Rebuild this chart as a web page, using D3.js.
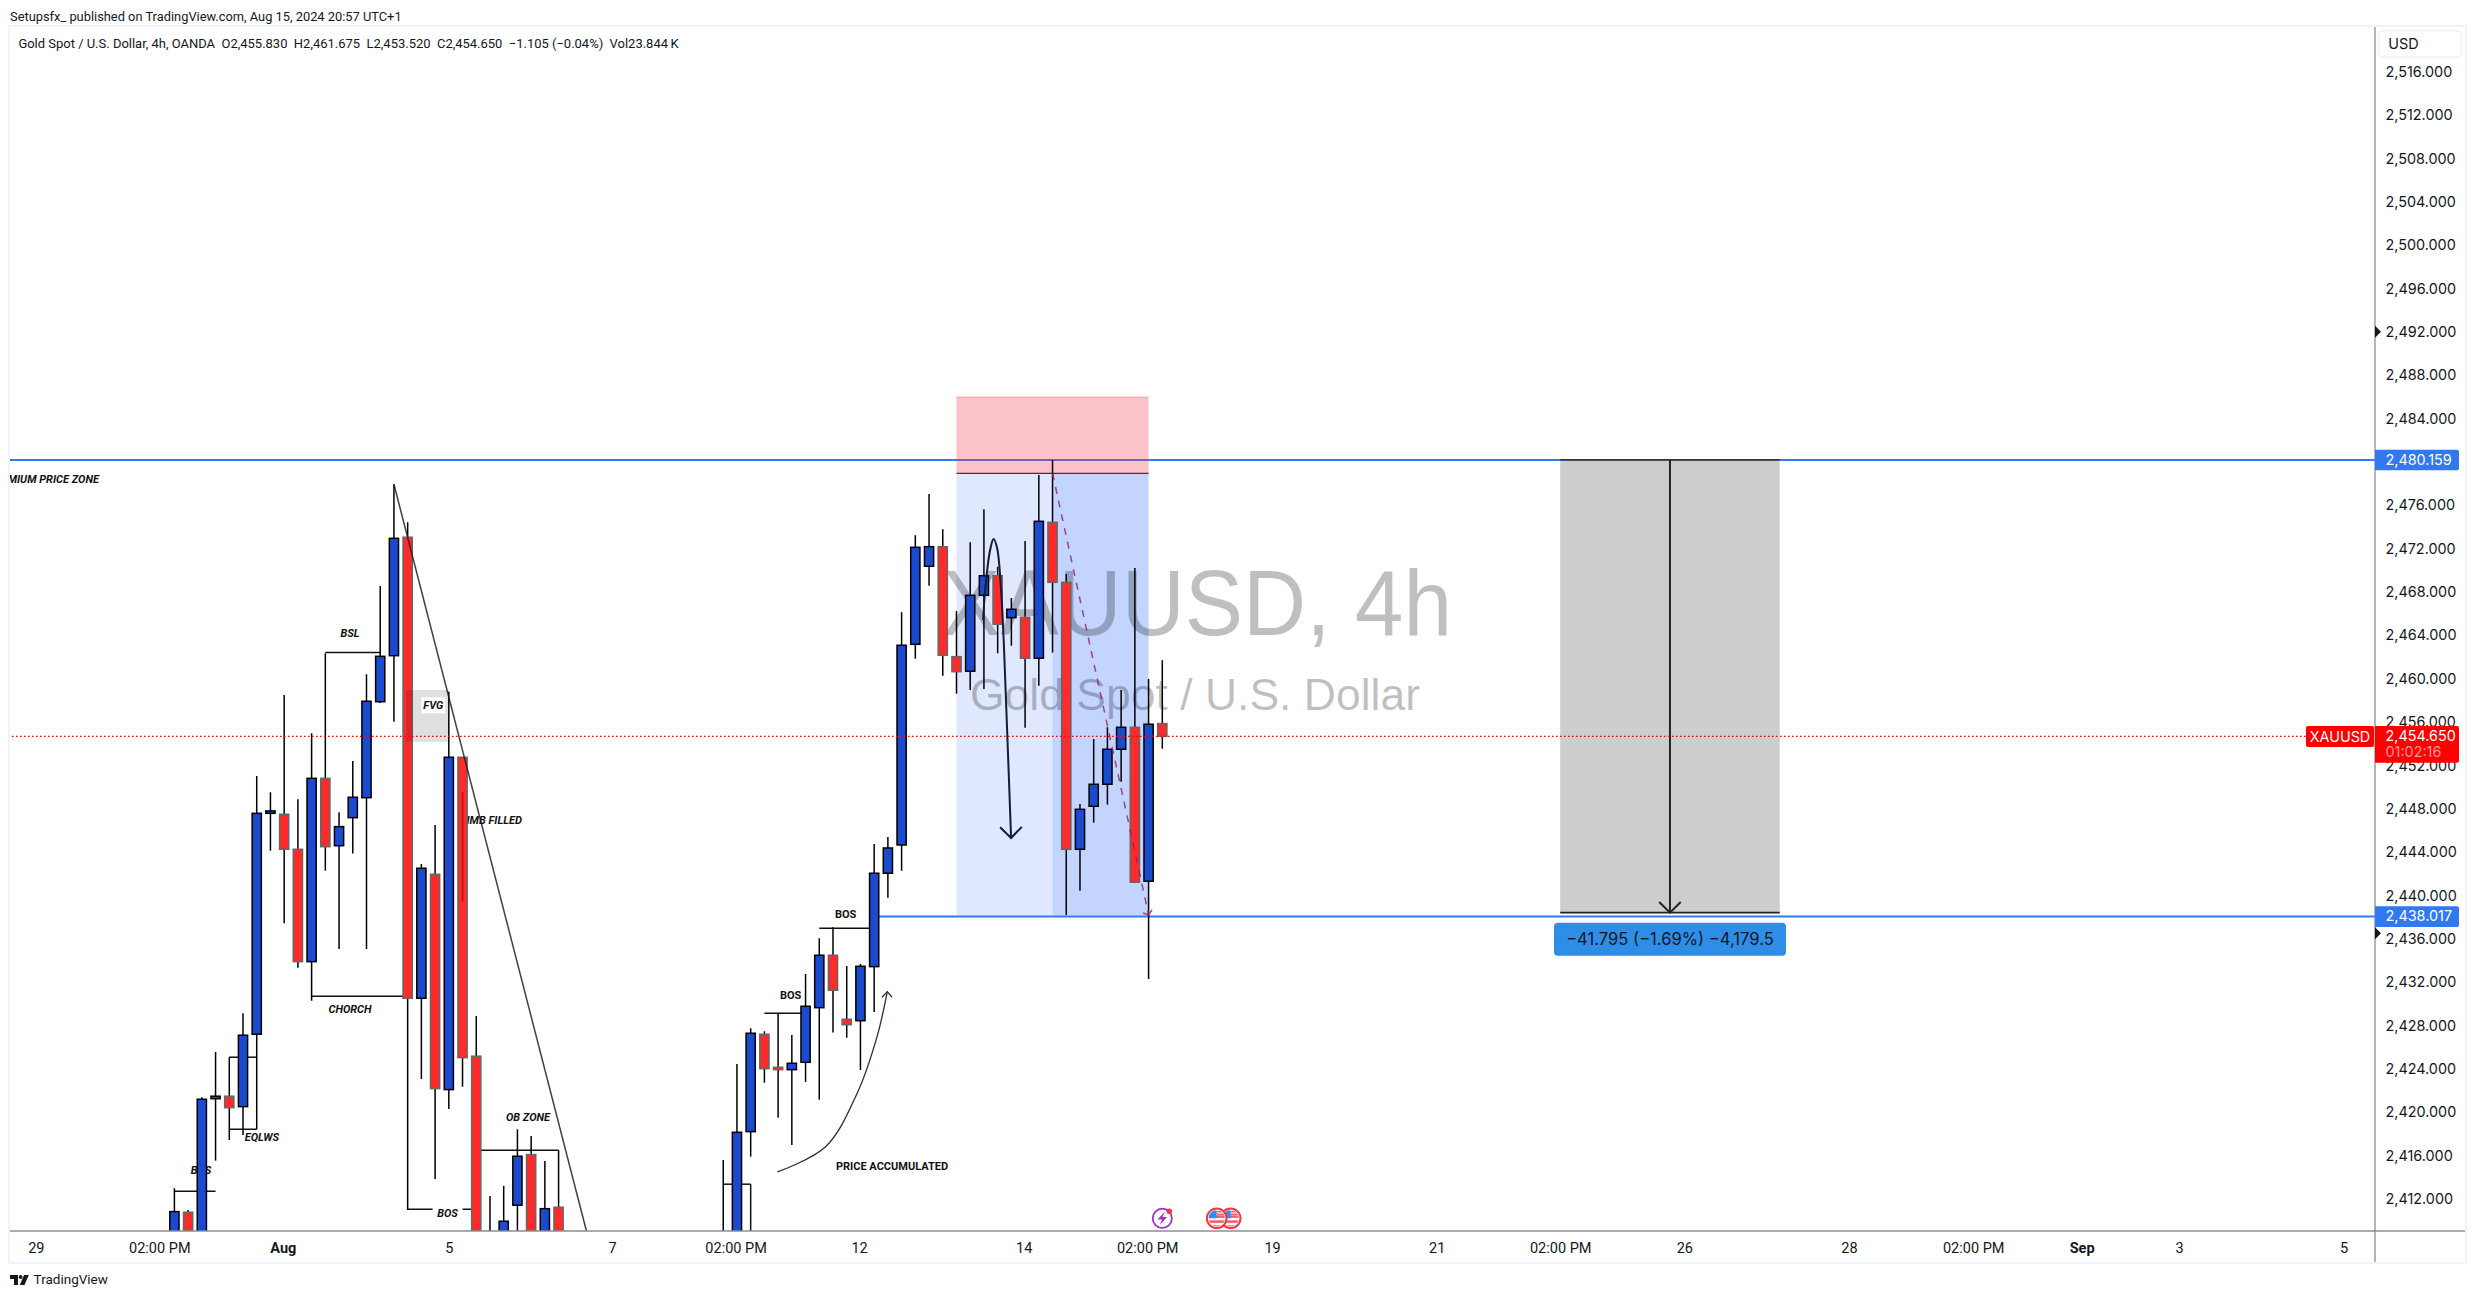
<!DOCTYPE html>
<html><head><meta charset="utf-8">
<script src="https://cdn.jsdelivr.net/npm/d3@7/dist/d3.min.js"></script>
<style>html,body{margin:0;padding:0;background:#fff;overflow:hidden}svg{display:block}</style>
</head><body><svg id="c" width="2475" height="1298"></svg>
<script>
// ---------- data ----------
const barIndex=[0,1,2,3,4,5,6,7,8,9,10,11,12,13,14,15,16,17,18,19,20,21,22,23,24,25,26,27,28,
 40,41,42,43,44,45,46,47,48,49,50,51,52,53,54,55,56,57,58,59,60,61,62,63,64,65,66,67,68,69,70,71,72];
const opens=[2405,2410.73,2406,2421.21,2421.44,2420.48,2427.16,2447.55,2447.46,2444.23,2433.86,2450.78,2444.56,2447.15,2448.99,2457.85,2462.10,2473.03,2430.48,2441.92,2422.05,2452.72,2425.13,2403,2404,2411.38,2416.05,2404,2411.19,
 2398,2404,2418.17,2427.16,2424.11,2423.89,2424.57,2429.61,2434.45,2428.54,2428.41,2433.40,2442.02,2444.63,2463.15,2470.35,2472.16,2462.01,2460.66,2467.67,2469.48,2465.61,2465.64,2461.86,2474.41,2468.87,2444.23,2448.20,2450.23,2453.46,2455.49,2441.28,2455.83];
const highs=[2412.95,2410.94,2421.34,2425.52,2425.04,2429.10,2451.00,2449.49,2458.47,2448.85,2454.94,2462.32,2447.65,2452.38,2460.38,2468.53,2477.92,2474.41,2442.87,2446.47,2458.78,2452.72,2428.85,2412.23,2413.16,2418.39,2417.77,2415.46,2416.45,
 2415.56,2424.42,2427.71,2427.44,2429.10,2427.09,2432.72,2436.02,2437.03,2433.46,2433.65,2444.72,2445.37,2466.10,2473.21,2477.02,2473.76,2466.22,2472.56,2475.61,2470.31,2467.42,2472.68,2478.78,2480.16,2469.64,2448.41,2454.41,2455.49,2458.93,2470.19,2459.95,2461.675];
const lows=[2402,2404,2405,2415.49,2417.40,2417.86,2418.39,2444.10,2437.40,2433.30,2430.26,2442.26,2435.03,2443.83,2435.03,2457.73,2456.01,2410.94,2423.03,2413.80,2420.26,2422.32,2402,2400,2402,2404,2403,2402,2401,
 2396,2402,2415.86,2422.69,2419.46,2416.94,2422.76,2421.12,2427.31,2426.84,2423.86,2429.22,2439.76,2442.26,2461.82,2468.56,2460.25,2458.59,2458.93,2459.03,2462.32,2463.02,2455.45,2459.33,2462.38,2438.17,2440.41,2446.69,2448.35,2450.47,2441.19,2432.26,2453.52];
const closes=[2410.79,2406,2421.16,2421.44,2420.38,2427.07,2447.55,2447.77,2444.23,2433.86,2450.78,2444.47,2446.32,2449.03,2457.89,2462.04,2472.93,2430.48,2442.48,2422.14,2452.72,2425.00,2404,2406,2409.90,2415.90,2405,2411.06,2403,
 2404,2418.11,2427.25,2423.98,2423.89,2424.48,2429.74,2434.45,2431.22,2428.04,2433.43,2442.02,2444.35,2463.06,2472.10,2472.16,2462.14,2460.62,2467.67,2469.48,2465.00,2466.38,2461.86,2474.50,2468.87,2444.23,2447.92,2450.23,2453.46,2455.49,2441.19,2455.77,2454.65];
const priceTicks=d3.range(2412,2517,4);
const timeTickIndex=[-10.1,-1.1,7.9,20,31.9,40.9,49.9,61.9,70.9,80,92,101,110.05,122.05,131.1,139,146.1,158.1];
const timeTickLabels=["29","02:00 PM","Aug","5","7","02:00 PM","12","14","02:00 PM","19","21","02:00 PM","26","28","02:00 PM","Sep","3","5"];
const levelHigh=2480.159, levelLow=2438.017, lastPrice=2454.65;
// annotation segments [i1,p1,i2,p2]
const annotationLines=[[11,2462.39,15,2462.39],[4,2425.04,6,2425.04],[4,2418.39,6,2418.39],[0,2412.67,3,2412.67],[10,2430.67,17,2430.67],[17,2411.01,22,2411.01],[22,2416.45,28,2416.45],[40,2413.32,42,2413.32],[42,2413.32,42,2405],[43,2429.10,46,2429.10],[47,2436.94,51,2436.94]];
const annotationTexts=[["BSL",12.8,2464.26],["CHORCH",12.8,2429.56],["EQLWS",6.38,2417.66],["OB ZONE",25.77,2419.59]];
const uprightTexts=[["BOS",44.91,2430.85],["BOS",48.92,2438.32],["PRICE ACCUMULATED",52.3,2414.98]];
const curveDown=[[58.94,2465.39],[59.09,2468.16],[59.45,2471.85],[59.70,2472.87],[59.96,2472.04],[60.25,2468.16],[60.47,2462.63],[60.69,2455.24],[60.98,2445.27]];
const curveUp=[[43.95,2414.45],[47.46,2416.78],[49.77,2421.74],[51.21,2426.94],[51.96,2431.09]];

// ---------- scales ----------
const x=d3.scaleLinear().domain([0,72]).range([174.4,1162.3]);
const y=d3.scaleLinear().domain([levelHigh,levelLow]).range([460,916.6]);
const L=10,T=27,R=2375,B=1231,FR=2465,FB=1262;
const svg=d3.select("#c");
const UI="Inter, 'Noto Sans', sans-serif";
const ROB="Roboto, sans-serif";
const NOTE=11;
const defs=svg.append("defs");
defs.append("clipPath").attr("id","plot").append("rect").attr("x",L).attr("y",T).attr("width",R-L).attr("height",B-T);
const plot=svg.append("g").attr("clip-path","url(#plot)");
const seg=(g,a,c,w)=>g.append("line").attr("x1",x(a[0])).attr("y1",y(a[1])).attr("x2",x(a[2])).attr("y2",y(a[3])).attr("stroke",c).attr("stroke-width",w);

// price lines
seg(plot,[-20,levelHigh,200,levelHigh],"#3179f2",2);
seg(plot,[51,levelLow,200,levelLow],"#3179f2",2);

// zones
const zone=(i1,i2,p1,p2,f)=>plot.append("rect").attr("x",x(i1)).attr("width",x(i2)-x(i1)).attr("y",y(p1)).attr("height",y(p2)-y(p1)).attr("fill",f);
zone(57,71,2485.97,2478.93,"rgba(242,54,69,.3)");
zone(57,71,2478.93,2438.1,"rgba(41,98,255,.15)");
zone(64,71,2478.93,2438.1,"rgba(41,98,255,.15)");
seg(plot,[57,2478.93,71,2478.93],"#8a1040",1.3);
seg(plot,[57,2485.97,71,2485.97],"rgba(242,54,69,.35)",1);

// watermark
plot.append("text").text("XAUUSD, 4h").attr("x",942).attr("y",635).attr("textLength",510).attr("lengthAdjust","spacingAndGlyphs").attr("font-family","'Liberation Sans'").attr("font-size",92).attr("fill","rgba(0,0,0,.25)");
plot.append("text").text("Gold Spot / U.S. Dollar").attr("x",970).attr("y",710).attr("textLength",450).attr("lengthAdjust","spacingAndGlyphs").attr("font-family","'Liberation Sans'").attr("font-size",45).attr("fill","rgba(0,0,0,.25)");

// text beneath candles
const ann=plot.append("g").attr("font-family",ROB).attr("font-weight",700).attr("font-style","italic").attr("font-size",NOTE).attr("fill","#111").attr("dominant-baseline","middle").attr("transform","translate(0,1.4)");
ann.append("text").text("PREMIUM PRICE ZONE").attr("x",x(-5.5)).attr("y",y(2478.47)).attr("text-anchor","end");
ann.append("text").text("IMB FILLED").attr("x",x(25.33)).attr("y",y(2447)).attr("text-anchor","end");
ann.append("text").text("BOS").attr("x",x(1.94)).attr("y",y(2414.7)).attr("text-anchor","middle");

// annotation lines beneath candles
annotationLines.forEach(a=>seg(plot,a,"#111",1.5));

// candles
const bars=barIndex.map((i,k)=>({i,o:opens[k],h:highs[k],l:lows[k],c:closes[k]}));
const blue="#1a4bcf", red="#ff2a2a";
const cg=plot.append("g");
cg.selectAll("line").data(bars).join("line").attr("x1",d=>x(d.i)).attr("x2",d=>x(d.i)).attr("y1",d=>y(d.h)).attr("y2",d=>y(d.l)).attr("stroke","#000").attr("stroke-width",1.5);
cg.selectAll("rect").data(bars).join("rect")
 .attr("x",d=>x(d.i)-4.6).attr("width",9.2)
 .attr("y",d=>y(Math.max(d.o,d.c))).attr("height",d=>Math.max(1,Math.abs(y(d.o)-y(d.c))))
 .attr("fill",d=>d.c>=d.o?blue:red).attr("stroke",d=>d.c>=d.o?"#000":"#666").attr("stroke-width",1.5);
seg(plot,[21,2449.49,21,2439.4],"#b81010",1.5);

// trend line
seg(plot,[16,2477.92,30.03,2409],"rgba(30,30,30,.85)",1.5);

// FVG
zone(16.9,20,2458.93,2454.16,"rgba(0,0,0,.125)");
plot.append("rect").attr("x",x(18.87)-12).attr("y",y(2457.61)-7).attr("width",24).attr("height",16).attr("fill","#fff");
plot.append("text").text("FVG").attr("x",x(18.87)).attr("y",y(2457.61)+1.4).attr("text-anchor","middle").attr("dominant-baseline","middle").attr("font-family",ROB).attr("font-weight",700).attr("font-style","italic").attr("font-size",NOTE).attr("fill","#111");

// annotation text above candles
const ann2=plot.append("g").attr("font-family",ROB).attr("font-weight",700).attr("font-size",NOTE).attr("fill","#111").attr("dominant-baseline","middle").attr("text-anchor","middle").attr("transform","translate(0,1.4)");
annotationTexts.forEach(t=>ann2.append("text").text(t[0]).attr("x",x(t[1])).attr("y",y(t[2])).attr("font-style","italic"));
uprightTexts.forEach(t=>ann2.append("text").text(t[0]).attr("x",x(t[1])).attr("y",y(t[2])));
plot.append("rect").attr("x",x(19.91)-15).attr("y",y(2410.73)-7).attr("width",30).attr("height",16).attr("fill","#fff");
plot.append("text").text("BOS").attr("x",x(19.91)).attr("y",y(2410.73)+1.4).attr("text-anchor","middle").attr("dominant-baseline","middle").attr("font-family",ROB).attr("font-weight",700).attr("font-style","italic").attr("font-size",NOTE).attr("fill","#111");

// curved arrows
const ln=d3.line().x(d=>x(d[0])).y(d=>y(d[1])).curve(d3.curveCatmullRom);
plot.append("path").attr("d",ln(curveDown)).attr("fill","none").attr("stroke","#131c38").attr("stroke-width",2);
plot.append("path").attr("d",d3.line().x(d=>x(d[0])).y(d=>y(d[1]))([[60.18,2446.26],[60.98,2445.27],[61.76,2446.3]])).attr("fill","none").attr("stroke","#131c38").attr("stroke-width",2);
plot.append("path").attr("d",ln(curveUp)).attr("fill","none").attr("stroke","#2a2e39").attr("stroke-width",1.3);
plot.append("path").attr("d",d3.line().x(d=>x(d[0])).y(d=>y(d[1]))([[51.57,2430.57],[51.96,2431.09],[52.30,2430.57]])).attr("fill","none").attr("stroke","#2a2e39").attr("stroke-width",1.3);

// dashed path
seg(plot,[64,2478.93,71,2438.2],"rgba(150,30,100,.8)",1.5).attr("stroke-dasharray","7 7");
plot.append("path").attr("d",d3.line().x(d=>x(d[0])).y(d=>y(d[1]))([[70.6,2438.35],[71,2438.17],[71.25,2438.63]])).attr("fill","none").attr("stroke","rgba(150,30,100,.8)").attr("stroke-width",1.5);

// measure
zone(101,117,levelHigh,2438.38,"#cdcdcd");
seg(plot,[101,levelHigh,117,levelHigh],"#222",1.6);
seg(plot,[101,2438.38,117,2438.38],"#222",1.8);
seg(plot,[109,levelHigh,109,2438.38],"#222",2);
plot.append("path").attr("d",d3.line().x(d=>x(d[0])).y(d=>y(d[1]))([[108.22,2439.37],[109,2438.38],[109.78,2439.37]])).attr("fill","none").attr("stroke","#222").attr("stroke-width",2);
svg.append("rect").attr("x",x(109)-116).attr("y",922.7).attr("width",232).attr("height",33).attr("rx",4).attr("fill","#2e8de6");
svg.append("text").text("\u221241.795 (\u22121.69%) \u22124,179.5").attr("x",x(109)).attr("y",940.6).attr("text-anchor","middle").attr("dominant-baseline","middle").attr("font-family",UI).attr("font-size",16.6).attr("fill","#131722");

// last price dotted
seg(plot,[-20,lastPrice,(2306-174.4)/13.72,lastPrice],"#f00",1.4).attr("stroke-dasharray","1.6 2.4");

// event icons
const ic=svg.append("g");
ic.append("circle").attr("cx",1162.3).attr("cy",1218.3).attr("r",9.6).attr("fill","#fff").attr("stroke","#a02fc4").attr("stroke-width",1.8);
ic.append("path").attr("d","M1165 1211.5 L1157.5 1219.5 L1162 1219.5 L1159.8 1225 L1167 1217 L1162.5 1217 Z").attr("fill","#a02fc4");
ic.append("circle").attr("cx",1169.3).attr("cy",1211.3).attr("r",2.8).attr("fill","#f23645");
[1230.7,1216.7].forEach((cx,k)=>{
 const id="fl"+k; const cy=1218.3;
 defs.append("clipPath").attr("id",id).append("circle").attr("cx",cx).attr("cy",cy).attr("r",8.2);
 const g=ic.append("g");
 g.append("circle").attr("cx",cx).attr("cy",cy).attr("r",9.8).attr("fill","#fff").attr("stroke","#f23645").attr("stroke-width",2);
 const f=g.append("g").attr("clip-path","url(#"+id+")");
 [-3,2,7].forEach(d=>f.append("rect").attr("x",cx-9).attr("y",cy+d).attr("width",18).attr("height",2.6).attr("fill","#f2606c"));
 [-7.4,-4.8].forEach(d=>f.append("rect").attr("x",cx).attr("y",cy+d).attr("width",9).attr("height",1.6).attr("fill","#f2606c"));
 f.append("rect").attr("x",cx-8).attr("y",cy-8).attr("width",8).attr("height",8).attr("fill","#2f8cf0");
});

// frame
const frame="#f0f3fa";
svg.append("rect").attr("x",L-1).attr("y",T-1).attr("width",FR-L+2).attr("height",FB-T+2).attr("fill","none").attr("stroke",frame).attr("stroke-width",2);
svg.append("line").attr("x1",R).attr("x2",R).attr("y1",T).attr("y2",FB).attr("stroke","#8b8e95").attr("stroke-width",1.3);
svg.append("line").attr("x1",L).attr("x2",FR).attr("y1",B).attr("y2",B).attr("stroke","#8b8e95").attr("stroke-width",1.3);

// price axis through d3.axisRight
const axisY=svg.append("g").attr("transform",`translate(${R},0)`).call(d3.axisRight(y).tickValues(priceTicks).tickSize(0).tickPadding(10.5).tickFormat(d3.format(",.3f")));
axisY.select(".domain").remove();
axisY.selectAll("text").attr("font-family",UI).attr("font-size",14.4).attr("fill","#131722").attr("dy","0.34em");

// time axis through d3.axisBottom
const axisX=svg.append("g").attr("transform",`translate(0,${B})`).call(d3.axisBottom(x).tickValues(timeTickIndex).tickSize(0).tickPadding(11.5).tickFormat((d,k)=>timeTickLabels[k]));
axisX.select(".domain").remove();
axisX.selectAll("text").attr("font-family",ROB).attr("font-size",14.5).attr("fill","#131722").attr("dy","0.71em").attr("font-weight",(d,k)=>/Aug|Sep/.test(timeTickLabels[k])?700:400);

// USD box
svg.append("rect").attr("x",2378.7).attr("y",30.7).attr("width",82.3).attr("height",26.3).attr("rx",4).attr("fill","#fff").attr("stroke",frame).attr("stroke-width",1.5);
svg.append("text").text("USD").attr("x",2388.3).attr("y",45).attr("dominant-baseline","middle").attr("font-family",UI).attr("font-size",14.4).attr("fill","#131722");

// price labels
const tag=(p,t)=>{svg.append("path").attr("d",`M${R} ${y(p)-10.3}H2457a2 2 0 0 1 2 2V${y(p)+8.3}a2 2 0 0 1-2 2H${R}Z`).attr("fill","#3179f2");
 svg.append("text").text(t).attr("x",R+10.5).attr("y",y(p)+0.9).attr("dominant-baseline","middle").attr("font-family",UI).attr("font-size",14.4).attr("fill","#fff");};
tag(levelHigh,"2,480.159");tag(levelLow,"2,438.017");
svg.append("path").attr("d","M2375 726H2457a2 2 0 0 1 2 2V760.7a2 2 0 0 1-2 2H2375Z").attr("fill","#f00");
svg.append("text").text("2,454.650").attr("x",R+10.5).attr("y",737.3).attr("dominant-baseline","middle").attr("font-family",UI).attr("font-size",14.4).attr("fill","#fff");
svg.append("text").text("01:02:16").attr("x",R+10.5).attr("y",753.2).attr("dominant-baseline","middle").attr("font-family",UI).attr("font-size",14.4).attr("fill","rgba(255,255,255,.6)");
svg.append("rect").attr("x",2306).attr("y",726).attr("width",68).attr("height",21).attr("rx",2).attr("fill","#f00");
svg.append("text").text("XAUUSD").attr("x",2340).attr("y",737.6).attr("text-anchor","middle").attr("dominant-baseline","middle").attr("font-family",UI).attr("font-size",14.4).attr("fill","#fff");
[331.7,933.3].forEach(c=>svg.append("path").attr("d",`M${R} ${c-6}L${R+6} ${c}L${R} ${c+6}Z`).attr("fill","#131722"));

// header
svg.append("text").text("Setupsfx_ published on TradingView.com, Aug 15, 2024 20:57 UTC+1").attr("x",10).attr("y",18).attr("dominant-baseline","middle").attr("font-family",ROB).attr("font-size",12.85).attr("fill","#131722");
svg.append("text").text("Gold Spot / U.S. Dollar, 4h, OANDA  O2,455.830  H2,461.675  L2,453.520  C2,454.650  \u22121.105 (\u22120.04%)  Vol23.844\u2009K").attr("xml:space","preserve").attr("x",18.4).attr("y",44.5).attr("dominant-baseline","middle").attr("font-family",ROB).attr("font-size",12.97).attr("fill","#131722").style("white-space","pre");

// footer logo
const logo=svg.append("g").attr("fill","#131722");
logo.append("path").attr("d","M10 1275H18V1285H14V1279H10Z");
logo.append("circle").attr("cx",20.6).attr("cy",1277).attr("r",1.9);
logo.append("path").attr("d","M24 1275H28.8L24.5 1285H19.8Z");
svg.append("text").text("TradingView").attr("x",33.6).attr("y",1280.8).attr("dominant-baseline","middle").attr("font-family",ROB).attr("font-size",13.5).attr("fill","#131722");
</script></body></html>
